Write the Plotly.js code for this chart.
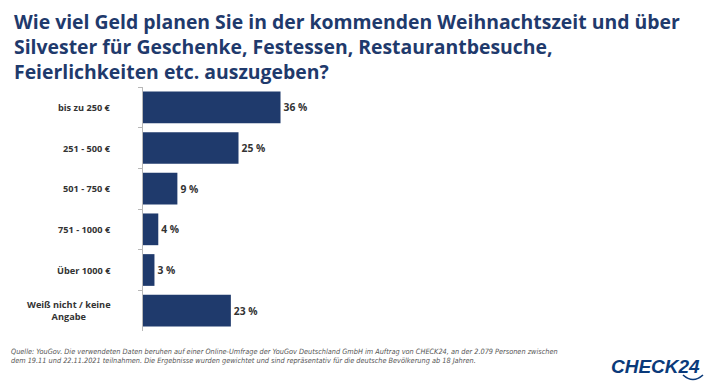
<!DOCTYPE html>
<html>
<head>
<meta charset="utf-8">
<script src="https://cdn.plot.ly/plotly-3.0.1.min.js"></script>
<style>html,body{margin:0;padding:0;background:#fff;}#chart{width:710px;height:388px;}</style>
</head>
<body>
<div id="chart"></div>
<script>
const categories = ["bis zu 250 €", "251 - 500 €", "501 - 750 €", "751 - 1000 €", "Über 1000 €", "Weiß nicht / keine<br>Angabe"];
const values = [36, 25, 9, 4, 3, 23];
const valueLabels = values.map(v => v + " %");
const titleText = "Wie viel Geld planen Sie in der kommenden Weihnachtszeit und über<br>Silvester für Geschenke, Festessen, Restaurantbesuche,<br>Feierlichkeiten etc. auszugeben?";
const sourceText = "Quelle: YouGov. Die verwendeten Daten beruhen auf einer Online-Umfrage der YouGov Deutschland GmbH im Auftrag von CHECK24, an der 2.079 Personen zwischen<br>dem 19.11 und 22.11.2021 teilnahmen. Die Ergebnisse wurden gewichtet und sind repräsentativ für die deutsche Bevölkerung ab 18 Jahren.";
const navy = "#1f3a6c";

const L = 143, T = 87, PW = 382, PH = 244;
const px = x => (x - L) / PW;
const py = y => (T + PH - y) / PH;

const trace = {
  type: "bar",
  orientation: "h",
  y: categories,
  x: values,
  marker: {color: navy},
  text: valueLabels,
  textposition: "outside",
  cliponaxis: false,
  textfont: {family: "Open Sans", size: 10.3, color: "#333333", weight: 700},
  hoverinfo: "none"
};

const labelAnns = categories.map(c => ({
  xref: "paper", yref: "y", x: 0, y: c, xshift: -30,
  xanchor: "right", yanchor: "middle", align: "center",
  text: c, showarrow: false,
  font: {family: "Open Sans", size: 9.2, color: "#333333", weight: 700}
}));

const layout = {
  width: 710, height: 388,
  margin: {l: L, r: 710 - L - PW, t: T, b: 388 - T - PH},
  paper_bgcolor: "#ffffff", plot_bgcolor: "#ffffff",
  showlegend: false,
  bargap: 0.22,
  xaxis: {range: [0, 100], visible: false, fixedrange: true},
  yaxis: {
    type: "category",
    autorange: "reversed",
    showline: true, linecolor: "#b8b8b8", linewidth: 1,
    ticks: "outside", tickson: "boundaries", ticklen: 4, tickcolor: "#b8b8b8",
    showticklabels: false, showgrid: false, zeroline: false
  },
  shapes: [
    {type: "path", xref: "paper", yref: "paper",
     path: "M " + px(683) + "," + py(375) + " Q " + px(693) + "," + py(384) + " " + px(703) + "," + py(375),
     line: {color: "#0a3a7a", width: 1.6}}
  ],
  annotations: labelAnns.concat([
    {xref: "paper", yref: "paper", x: px(12), y: py(6), xanchor: "left", yanchor: "top", align: "left",
     text: titleText, showarrow: false,
     font: {family: "Open Sans", size: 19.4, color: navy, weight: 700}},
    {xref: "paper", yref: "paper", x: px(9), y: py(345), xanchor: "left", yanchor: "top", align: "left",
     text: sourceText, showarrow: false,
     font: {family: "DejaVu Sans Condensed, DejaVu Sans", size: 7.3, color: "#555555", style: "italic"}},
    {xref: "paper", yref: "paper", x: px(702), y: py(354), xanchor: "right", yanchor: "top",
     text: "<b><i>CHECK24</i></b>", showarrow: false,
     font: {family: "Liberation Sans", size: 19, color: "#0a3a7a"}}
  ])
};

Plotly.newPlot("chart", [trace], layout, {displayModeBar: false, staticPlot: true});
</script>
</body>
</html>
